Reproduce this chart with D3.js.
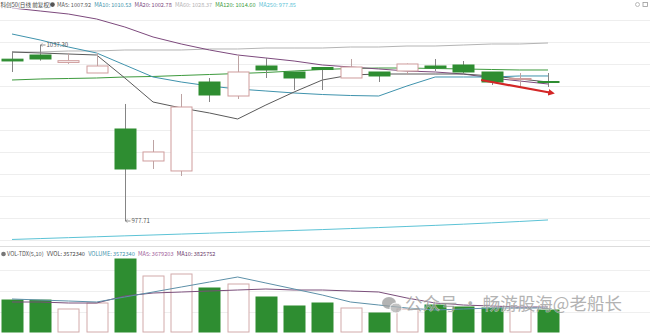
<!DOCTYPE html>
<html><head><meta charset="utf-8">
<script src="https://cdn.jsdelivr.net/npm/d3@7"></script>
<style>html,body{margin:0;padding:0;background:#fff;overflow:hidden}</style>
</head><body>
<svg id="chart" width="650" height="334"></svg>
<script>
// ---- data: 20 daily bars of 科创50 (前复权) ----
const bars   = d3.range(1, 21);
const open   = [1032.5, 1033.91, 1031.4, 1027.82, 1008.86, 998.03, 994.65, 1024.77, 1020.03, 1030.19,
                1028.16, 1029.68, 1026.13, 1028.16, 1028.5, 1030.19, 1030.53, 1028.16, 1025.79, 1024.94];
const close  = [1031.9, 1032.56, 1031.99, 1030.19, 995.32, 1001.08, 1016.31, 1020.37, 1028.16, 1028.84,
                1026.13, 1029.0, 1029.85, 1026.81, 1030.87, 1029.51, 1028.16, 1024.77, 1025.96, 1024.6];
const high   = [1034.93, 1037.30, 1034.6, 1034.6, 1017.33, 1005.14, 1020.71, 1026.13, 1033.91, 1032.9,
                1028.16, 1029.85, 1032.56, 1028.16, 1031.04, 1032.56, 1031.88, 1028.16, 1027.82, 1027.82];
const low    = [1028.16, 1032.0, 1030.9, 1027.8, 977.71, 995.32, 992.95, 1018.0, 1019.02, 1026.13,
                1022.07, 1022.07, 1026.13, 1024.77, 1027.14, 1028.5, 1027.48, 1023.76, 1023.08, 1023.08];
const volume = [5196000, 5180000, 3735000, 4709000, 11854000, 9093000, 9418000, 7145000, 7794000, 5683000,
                4222000, 4709000, 3897000, 3085000, 3735000, 4384000, 4059000, 3897000, 3897000, 3572340];

// price moving averages
const ma5   = [1034.93, 1034.59, 1034.25, 1033.91, 1026.13, 1018.00, 1015.97, 1014.28, 1012.25, 1016.99,
               1021.39, 1025.45, 1027.14, 1027.48, 1027.48, 1027.48, 1027.48, 1026.81, 1025.79, 1024.77];
const ma10  = [1041.02, 1038.99, 1036.62, 1034.59, 1030.53, 1026.47, 1024.77, 1023.42, 1022.40, 1021.73,
               1021.05, 1020.54, 1020.20, 1020.03, 1023.42, 1026.47, 1026.47, 1026.47, 1026.81, 1026.81];
const ma20  = [1049.83, 1048.81, 1047.79, 1046.10, 1043.39, 1040.01, 1037.64, 1035.61, 1033.91, 1032.90,
               1031.88, 1030.53, 1029.85, 1029.18, 1028.50, 1028.16, 1027.48, 1026.13, 1025.11, 1024.10];
const ma60  = [1034.93, 1034.93, 1035.27, 1035.27, 1035.61, 1035.61, 1035.61, 1035.95, 1035.95, 1036.28,
               1036.28, 1036.28, 1036.62, 1036.62, 1036.96, 1036.96, 1037.30, 1037.64, 1037.64, 1037.98];
const ma120 = [1025.45, 1025.79, 1025.96, 1026.13, 1026.47, 1026.64, 1026.98, 1027.31, 1027.65, 1027.99,
               1028.50, 1029.01, 1029.34, 1029.51, 1029.51, 1029.34, 1029.18, 1029.01, 1028.84, 1028.84];
const ma250 = [971.46, 971.76, 972.07, 972.37, 972.68, 972.98, 973.29, 973.59, 973.89, 974.20,
               974.50, 974.81, 975.15, 975.49, 975.86, 976.23, 976.64, 977.08, 977.55, 978.06];

// volume moving averages
const volMa5  = [5358500, 5196100, 5033700, 4871400, 5683300, 6495200, 7307100, 8119000, 8930800, 7956600,
                 6982300, 6008000, 4871400, 4384200, 3897100, 3572300, 3734700, 3897100, 3897100, 3897100];
const volMa10 = [4871400, 4871400, 4709000, 4709000, 5845600, 6332800, 6495200, 6657500, 6819900, 6982300,
                 6819900, 6819900, 6657500, 6495200, 5520900, 4709000, 4384200, 4221900, 4059500, 4059500];

// legend texts
const title = "科创50(日线 前复权)";
const maLabels = ["MA5: 1007.92", "MA10: 1010.53", "MA20: 1002.78", "MA60: 1028.37", "MA120: 1014.60", "MA250: 977.85"];
const volLabels = ["VOL-TDX(5,10)", "VVOL: 3572340", "VOLUME: 3572340", "MA5: 3679203", "MA10: 3825752"];
const highLabel = "1037.30", lowLabel = "977.71";
const trendFrom = {i: 16.63, p: 1025.45}, trendTo = {i: 19.15, p: 1021.05};
const watermark = "公众号 · 畅游股海@老船长";

// ---- drawing ----
const svg = d3.select("#chart");
const W = 650, H = 334;
const font = "'Noto Sans CJK SC', 'Noto Sans', sans-serif";

const x  = d3.scaleLinear().domain([0, 19]).range([12, 548]);
const y  = d3.scaleLinear().domain([977.71, 1037.30]).range([221, 45]);
const vy = d3.scaleLinear().domain([0, 11854000]).range([332, 259]);
const bodyW = 21;

const GREEN = "#2e8d31", UPSTROKE = "#cf9c9c";
const maColors = ["#5a5a5a", "#3f93ad", "#7d4a7d", "#b4b4b4", "#3d9a3d", "#5cc3d6"];

// grid rows
const grid = svg.append("g");
d3.range(20, 246, 22).forEach(gy => grid.append("line")
  .attr("x1", 0).attr("x2", W).attr("y1", gy + 0.5).attr("y2", gy + 0.5)
  .attr("stroke", "#eeeeee"));
grid.append("line").attr("x1", 0).attr("x2", W).attr("y1", 246.5).attr("y2", 246.5).attr("stroke", "#dcdcdc");
[270, 291, 312].forEach(gy => grid.append("line")
  .attr("x1", 0).attr("x2", W).attr("y1", gy + 0.5).attr("y2", gy + 0.5)
  .attr("stroke", "#efefef"));

// moving average lines
const line = arr => d3.line().x((d, i) => x(i)).y(d => y(d))(arr);
[ma250, ma60, ma120, ma20, ma10, ma5].forEach((arr, k) => {
  const ci = [5, 3, 4, 2, 1, 0][k];
  svg.append("path").attr("d", line(arr)).attr("fill", "none")
    .attr("stroke", maColors[ci]).attr("stroke-width", 1);
});

// candles
const idx = d3.range(bars.length);
const cg = svg.append("g");
idx.forEach(i => {
  const up = close[i] >= open[i];
  const cx = Math.round(x(i)) + 0.5;
  const top = y(Math.max(open[i], close[i])), bot = y(Math.min(open[i], close[i]));
  cg.append("line").attr("x1", cx).attr("x2", cx)
    .attr("y1", y(high[i])).attr("y2", top)
    .attr("stroke", up ? "#bda3a3" : "#858585");
  cg.append("line").attr("x1", cx).attr("x2", cx)
    .attr("y1", bot).attr("y2", y(low[i]))
    .attr("stroke", up ? "#bda3a3" : "#858585");
  cg.append("rect")
    .attr("x", cx - bodyW / 2).attr("width", bodyW)
    .attr("y", top).attr("height", Math.max(1, bot - top))
    .attr("fill", up ? "#fff" : GREEN)
    .attr("stroke", up ? UPSTROKE : GREEN).attr("stroke-width", 1);
});

// high / low markers
const iHigh = high.indexOf(d3.max(high)), iLow = low.indexOf(d3.min(low));
[[iHigh, high[iHigh], highLabel], [iLow, low[iLow], lowLabel]].forEach(([i, v, t]) => {
  const px = Math.round(x(i)) + 0.5, py = y(v);
  svg.append("line").attr("x1", px).attr("x2", px + 5).attr("y1", py).attr("y2", py)
    .attr("stroke", "#777").attr("stroke-width", 0.8);
  svg.append("path").attr("d", `M${px + 2},${py - 1.5} L${px},${py} L${px + 2},${py + 1.5}`)
    .attr("fill", "none").attr("stroke", "#777").attr("stroke-width", 0.6);
  svg.append("text").attr("x", px + 6).attr("y", py + 2).text(t)
    .attr("font-family", font).attr("font-size", 6).attr("fill", "#555");
});

// trend arrow
svg.append("defs").append("marker").attr("id", "ah")
  .attr("viewBox", "0 0 10 10").attr("refX", 6).attr("refY", 5)
  .attr("markerWidth", 3).attr("markerHeight", 3).attr("orient", "auto")
  .append("path").attr("d", "M0,0 L10,5 L0,10 Z").attr("fill", "#d32626");
svg.append("line")
  .attr("x1", x(trendFrom.i)).attr("y1", y(trendFrom.p))
  .attr("x2", x(trendTo.i)).attr("y2", y(trendTo.p))
  .attr("stroke", "#d32626").attr("stroke-width", 2.2).attr("marker-end", "url(#ah)");

// volume bars
idx.forEach(i => {
  const up = close[i] >= open[i];
  const cx = Math.round(x(i)) + 0.5;
  svg.append("rect")
    .attr("x", cx - bodyW / 2).attr("width", bodyW)
    .attr("y", vy(volume[i])).attr("height", vy(0) - vy(volume[i]))
    .attr("fill", up ? "#fff" : GREEN)
    .attr("stroke", up ? "#d2aaaa" : GREEN).attr("stroke-width", 1);
});
const vline = arr => d3.line().x((d, i) => x(i)).y(d => vy(d))(arr);
svg.append("path").attr("d", vline(volMa10)).attr("fill", "none").attr("stroke", "#7a4e7a").attr("stroke-width", 1);
svg.append("path").attr("d", vline(volMa5)).attr("fill", "none").attr("stroke", "#5d90a8").attr("stroke-width", 1);

// watermark
const wm = svg.append("g").attr("opacity", 0.75);
wm.append("ellipse").attr("cx", 389).attr("cy", 303).attr("rx", 7).attr("ry", 6).attr("fill", "#9a9a9a");
wm.append("ellipse").attr("cx", 396).attr("cy", 308).attr("rx", 6).attr("ry", 5).attr("fill", "#b0b0b0")
  .attr("stroke", "#fff").attr("stroke-width", 1);
wm.append("text").attr("x", 405).attr("y", 310).text(watermark)
  .attr("font-family", font).attr("font-size", 17.5).attr("fill", "#9a9a9a")
  .attr("stroke", "#fff").attr("stroke-width", 0.6).attr("paint-order", "stroke");

// legends
function legend(yy, items, colors, startX) {
  let cur = startX;
  const g = svg.append("g");
  items.forEach((t, k) => {
    const el = g.append("text").attr("x", cur).attr("y", yy).text(t)
      .attr("font-family", font).attr("font-size", 5.6).attr("fill", colors[k]);
    cur += el.node().getComputedTextLength() + 3.2;
  });
}
svg.append("rect").attr("x", 0).attr("y", 0).attr("width", W).attr("height", 9).attr("fill", "#fff").attr("opacity", 0.6);
legend(6.5, [title], ["#444"], 0.5);
svg.append("circle").attr("cx", 52.5).attr("cy", 4.6).attr("r", 2.3).attr("fill", "#555");
legend(6.5, maLabels, maColors, 57);
svg.append("circle").attr("cx", 3.5).attr("cy", 254).attr("r", 2.3).attr("fill", "#777");
legend(256, volLabels, ["#555", "#444", "#3f93ad", "#a0609a", "#6a3a6a"], 7);

// toolbar glyphs at the top right
svg.append("circle").attr("cx", 637.5).attr("cy", 4.5).attr("r", 2).attr("fill", "none").attr("stroke", "#aaa").attr("stroke-width", 0.8);
svg.append("rect").attr("x", 643).attr("y", 2.5).attr("width", 4.5).attr("height", 4).attr("fill", "none").attr("stroke", "#999").attr("stroke-width", 0.8);
</script>
</body></html>
